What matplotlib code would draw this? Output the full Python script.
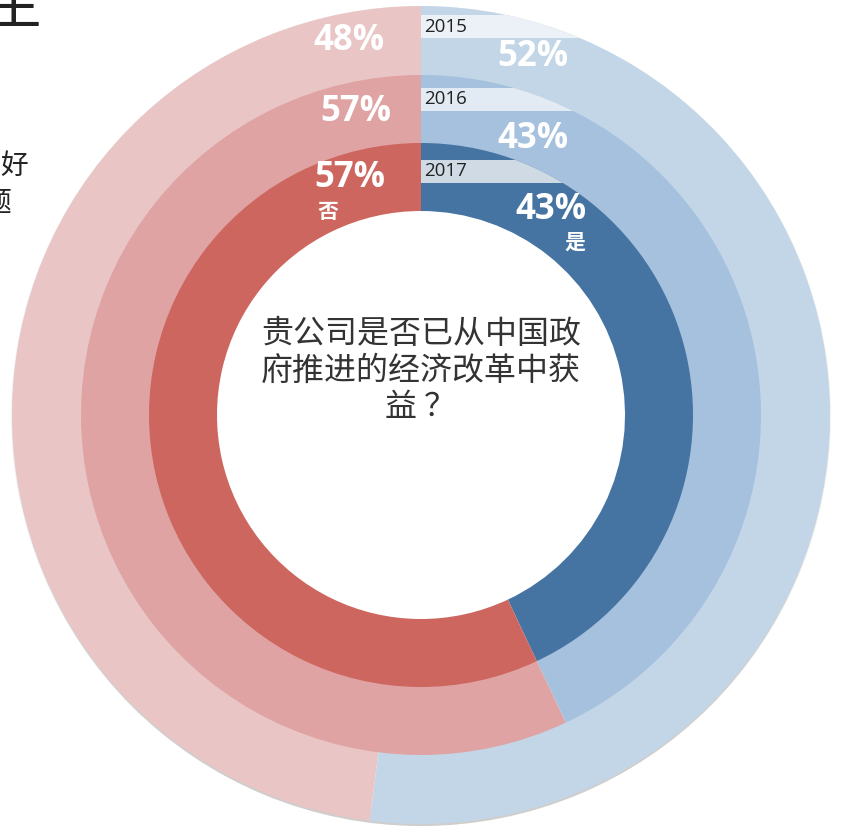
import matplotlib
matplotlib.use('Agg')
import matplotlib.pyplot as plt
from matplotlib.patches import Rectangle, Wedge

# Survey answers per year (share of companies, %)
years = ['2015', '2016', '2017']
yes_share = [52, 43, 43]
no_share = [48, 57, 57]
yes_word = '是'
no_word = '否'
question = '贵公司是否已从中国政\n府推进的经济改革中获\n益 ？'

W, H = 844, 826
fig = plt.figure(figsize=(W / 100, H / 100), dpi=100)
ax = fig.add_axes([0, 0, 1, 1])

CJK = ['Noto Sans CJK SC', 'DejaVu Sans']
LAT = ['Open Sans', 'Noto Sans CJK SC', 'DejaVu Sans']

cx, cy = 421, H - 415
radii = [409, 340, 272]
hole = 204
yes_colors = ['#C3D6E7', '#A5C1DD', '#4573A2']
no_colors = ['#E9C5C5', '#E0A3A3', '#CD665E']
band_colors = ['#EBF1F7', '#E2EAF3', '#CFDAE5']
band_top = [15, 88, 160]
band_h = 23

# soft shadow under the outer ring
for k, a in enumerate([0.10, 0.16, 0.22]):
    ax.add_patch(Wedge((cx, cy - 1 - k), radii[0] + 1 - k, 0, 360, width=12,
                       facecolor='#8f8a86', alpha=a, lw=0, zorder=0))

# label offsets from the centre (pixels): (yes dx, yes dy), (no dx, no dy)
yes_off = [(112, 358), (112, 276), (130, 205)]
no_off = [(-72, 374), (-65, 303), (-71, 237)]

for i in range(len(years)):
    inner = radii[i + 1] if i + 1 < len(radii) else hole
    width = radii[i] - inner + (1 if i + 1 < len(radii) else 0)
    wedges, _ = ax.pie([yes_share[i], no_share[i]], radius=radii[i],
                       center=(cx, cy), startangle=90, counterclock=False,
                       colors=[yes_colors[i], no_colors[i]],
                       wedgeprops=dict(width=width, linewidth=0))
    for w in wedges:
        w.set_zorder(1 + i * 0.1)
    band = Rectangle((cx, H - band_top[i] - band_h), radii[i], band_h,
                     facecolor=band_colors[i], lw=0, zorder=2)
    ax.add_patch(band)
    band.set_clip_path(wedges[0])
    ax.text(cx + 3, H - band_top[i] - band_h / 2, years[i], fontsize=13.5,
            ha='left', va='center', color='#222222', family=LAT, zorder=3)
    ax.text(cx + yes_off[i][0], cy + yes_off[i][1], f'{yes_share[i]}%',
            fontsize=25, fontweight='bold', color='white', ha='center',
            va='center', family=LAT, zorder=3)
    ax.text(cx + no_off[i][0], cy + no_off[i][1], f'{no_share[i]}%',
            fontsize=25, fontweight='bold', color='white', ha='center',
            va='center', family=LAT, zorder=3)

ax.text(575, H - 242, yes_word, fontsize=15, fontweight='bold', color='white',
        ha='center', va='center', family=CJK, zorder=3)
ax.text(328, H - 212, no_word, fontsize=15, fontweight='bold', color='white',
        ha='center', va='center', family=CJK, zorder=3)

ax.text(cx, H - 371, question, fontsize=23, color='#333333', ha='center',
        va='center', family=CJK, linespacing=1.18, zorder=3)

# neighbouring page text at the left margin
ax.text(14, H - 23, '主', fontsize=40, ha='center', va='baseline',
        color='#222222', family=CJK)
ax.text(28, H - 166, '好', fontsize=20, ha='right', va='center',
        color='#222222', family=CJK)
ax.text(11, H - 202, '题', fontsize=20, ha='right', va='center',
        color='#222222', family=CJK)

ax.set_xlim(0, W)
ax.set_ylim(0, H)
ax.set_aspect('equal')
ax.axis('off')
fig.savefig('out.png', dpi=100)
